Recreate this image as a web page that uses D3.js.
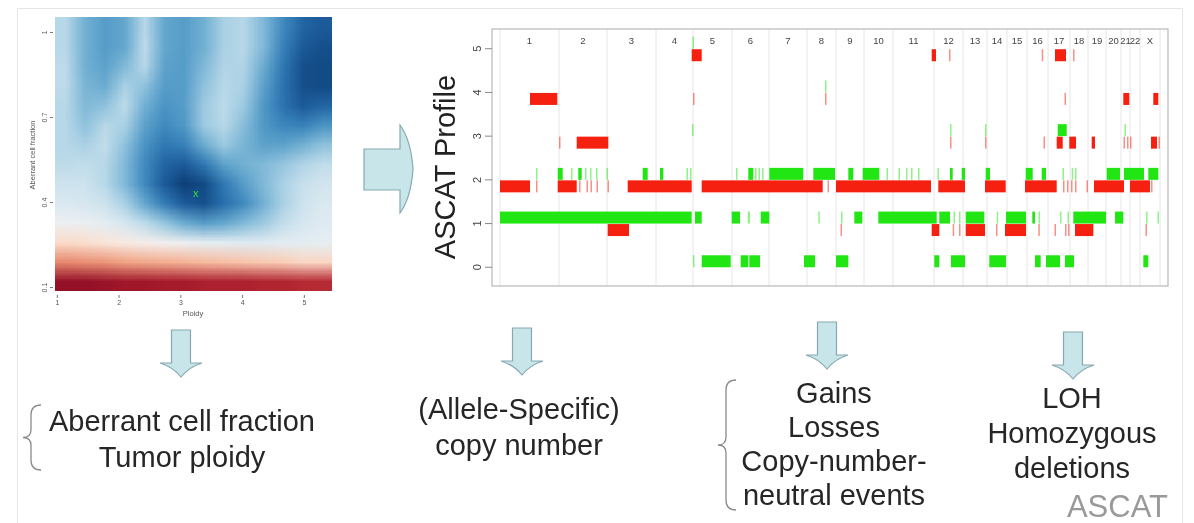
<!DOCTYPE html>
<html>
<head>
<meta charset="utf-8">
<script src="https://cdn.jsdelivr.net/npm/d3@7"></script>
<style>
  body { margin: 0; background: #fff; }
  #fig { position: relative; width: 1194px; height: 523px; }
  #fig svg { position: absolute; left: 0; top: 0; }
  text { font-family: "Liberation Sans", Arial, sans-serif; }
</style>
</head>
<body>
<div id="fig"></div>
<script>
// ---- goodness-of-fit landscape (ploidy x aberrant cell fraction) ----
var ploidyCells = [1.13, 1.45, 1.77, 2.09, 2.41, 2.73, 3.05, 3.37, 3.69, 4.01, 4.33, 4.65, 4.97, 5.28];
var purityCells = [1.018, 0.949, 0.879, 0.809, 0.740, 0.670, 0.601, 0.531, 0.462, 0.392, 0.322, 0.253, 0.183, 0.114];
// 0 = red (poor fit) .. 0.5 = white .. 1 = dark blue (good fit), rows top -> bottom
var fitGrid = [
  [0.64, 0.74, 0.78, 0.76, 0.64, 0.76, 0.78, 0.74, 0.66, 0.64, 0.72, 0.82, 0.90, 0.92],
  [0.64, 0.74, 0.78, 0.76, 0.63, 0.76, 0.78, 0.74, 0.66, 0.64, 0.72, 0.84, 0.92, 0.94],
  [0.63, 0.74, 0.77, 0.72, 0.64, 0.77, 0.78, 0.72, 0.65, 0.65, 0.75, 0.86, 0.94, 0.95],
  [0.63, 0.73, 0.75, 0.66, 0.70, 0.78, 0.78, 0.70, 0.64, 0.66, 0.77, 0.87, 0.94, 0.95],
  [0.64, 0.72, 0.70, 0.63, 0.74, 0.80, 0.78, 0.68, 0.63, 0.68, 0.79, 0.87, 0.92, 0.90],
  [0.64, 0.70, 0.64, 0.66, 0.77, 0.82, 0.79, 0.68, 0.64, 0.71, 0.79, 0.83, 0.84, 0.80],
  [0.64, 0.66, 0.62, 0.70, 0.80, 0.86, 0.84, 0.75, 0.68, 0.73, 0.77, 0.77, 0.74, 0.70],
  [0.63, 0.62, 0.64, 0.72, 0.82, 0.90, 0.92, 0.86, 0.77, 0.74, 0.72, 0.69, 0.65, 0.62],
  [0.60, 0.60, 0.64, 0.72, 0.82, 0.92, 0.97, 0.95, 0.86, 0.78, 0.72, 0.66, 0.61, 0.59],
  [0.57, 0.58, 0.60, 0.66, 0.76, 0.85, 0.92, 0.94, 0.88, 0.82, 0.74, 0.66, 0.60, 0.57],
  [0.52, 0.53, 0.55, 0.58, 0.63, 0.69, 0.75, 0.78, 0.76, 0.72, 0.68, 0.62, 0.58, 0.56],
  [0.41, 0.42, 0.44, 0.46, 0.48, 0.50, 0.52, 0.54, 0.55, 0.56, 0.56, 0.55, 0.55, 0.54],
  [0.26, 0.27, 0.28, 0.30, 0.31, 0.32, 0.33, 0.34, 0.35, 0.36, 0.37, 0.38, 0.40, 0.40],
  [0.06, 0.06, 0.07, 0.08, 0.08, 0.09, 0.09, 0.10, 0.10, 0.10, 0.11, 0.11, 0.12, 0.12]
];
var bestFit = {ploidy: 3.25, purity: 0.43};
var ploidyTicks = [1, 2, 3, 4, 5];
var purityTicks = [0.1, 0.4, 0.7, 1];

// ---- ASCAT profile ----
var chromNames = ["1","2","3","4","5","6","7","8","9","10","11","12","13","14","15","16","17","18","19","20","21","22","X"];
var chromSize = [59, 48, 49, 37, 39, 37, 38, 29, 28, 29, 41, 29, 24, 20, 20, 21, 22, 18, 18, 15, 9, 10, 20];
var cnTicks = [0, 1, 2, 3, 4, 5];
// [start, end, copy number] along the genome
var redSegs = [
  [0,30,2],[36,37.5,2],[57.7,76.7,2],[79,80.5,2],[86.5,88,2],[90.5,92,2],[96.5,98,2],[107.5,109,2],
  [127.7,191.7,2],[201.7,322.7,2],[327.5,329,2],[336,431,2],[438.3,465,2],[485,505.7,2],[525,556.7,2],
  [563,564.5,2],[567,568.5,2],[571,572.5,2],[575,576.5,2],[586.5,588,2],[594,624,2],[630,650,2],[651,652.5,2],
  [30,57.3,4],[193,194.5,4],[325,326.5,4],[564.5,566,4],[623.3,629.3,4],[653.3,658.3,4],
  [59,60.5,3],[76.7,108.3,3],[450,451.5,3],[485,486.5,3],[543.5,545,3],[556.7,562.7,3],[569.3,576,3],
  [591.7,595,3],[623.5,625,3],[627,628.5,3],[630,631.5,3],[651,657,3],[658.5,660,3],
  [191.7,201.7,5],[431.7,436,5],[449,450.5,5],[541.7,543.2,5],[555,566,5],[573,574.5,5],
  [107.7,129,1],[340.5,342,1],[431.7,439.3,1],[452.7,454.2,1],[459,460.5,1],[465.7,485,1],[496,497.5,1],
  [505,526,1],[538.3,539.8,1],[554.5,556,1],[565,566.5,1],[568,569.5,1],[575,593.3,1],[645.5,647,1]
];
var greenSegs = [
  [0,191.7,1],[195,201.7,1],[231.7,240,1],[247.7,250,1],[260.7,269.3,1],[318.3,319.8,1],[341,342.5,1],
  [354.3,362.3,1],[378.3,436.7,1],[439.3,450,1],[453.5,455,1],[459,460.5,1],[465.7,484.3,1],[496.7,498.2,1],
  [506,526,1],[532.3,535,1],[538.5,540,1],[560,561.5,1],[567.5,569,1],[573.3,606,1],[615,623.3,1],
  [646,647.5,1],[657.5,659,1],
  [36,37.5,2],[57.7,62.7,2],[71,72.5,2],[78.3,81.7,2],[85,86.5,2],[90,91.5,2],[96,97.5,2],[106.5,108,2],
  [142.7,147.7,2],[160,163.3,2],[186.5,188,2],[190,191.5,2],[236,237.5,2],[248.3,253.3,2],[255,256.5,2],
  [258.5,260,2],[262,263.5,2],[269.3,303.3,2],[313.3,335,2],[348.3,353.3,2],[362.7,379.3,2],[386.5,388,2],
  [398.5,400,2],[406,407.5,2],[411,412.5,2],[418,419.5,2],[437.5,439,2],[450,452.7,2],[461.7,465,2],
  [485.7,490,2],[525.7,532.7,2],[541.7,546,2],[562.5,564,2],[571.7,573.2,2],[575,576.5,2],[606.7,620,2],
  [624,644,2],[648.3,658.3,2],
  [192,193.5,3],[450,451.5,3],[485,486.5,3],[557.7,566.7,3],[624.5,626,3],
  [325,326.5,4],
  [192.5,194,5],
  [193,194.5,0],[201.7,230.7,0],[240.7,248.3,0],[249.3,260,0],[304,315,0],[336,348.3,0],[434.3,439.3,0],
  [451,465,0],[489.3,506,0],[535,540.7,0],[546,560,0],[565,574,0],[643.3,648.3,0]
];

// ---- annotation text ----
var captions = [
  {x: 182, lines: ["Aberrant cell fraction", "Tumor ploidy"], y0: 431, dy: 36},
  {x: 519, lines: ["(Allele-Specific)", "copy number"], y0: 419, dy: 36},
  {x: 834, lines: ["Gains", "Losses", "Copy-number-", "neutral events"], y0: 403, dy: 34},
  {x: 1072, lines: ["LOH", "Homozygous", "deletions"], y0: 408, dy: 35}
];
var downArrows = [{x: 181, y: 330}, {x: 522, y: 328}, {x: 827, y: 322}, {x: 1073, y: 332}];
var braces = [{x: 23, y0: 405, y1: 470}, {x: 718, y0: 380, y1: 510}];

var W = 1194, H = 523;
var fig = d3.select("#fig");

// ===== heatmap (canvas under the svg, smoothed when scaled up) =====
var hx = d3.scaleLinear().domain([0.97, 5.44]).range([55, 331]);
var hy = d3.scaleLinear().domain([0.079, 1.053]).range([293, 17]);
var cw = hx(ploidyCells[1]) - hx(ploidyCells[0]);
var ch = hy(purityCells[1]) - hy(purityCells[0]);
var heatLeft = hx(ploidyCells[0]) - cw / 2;
var heatTop = hy(purityCells[0]) - ch / 2;
var canvas = fig.append("canvas")
    .attr("width", ploidyCells.length).attr("height", purityCells.length)
    .style("position", "absolute")
    .style("left", heatLeft + "px").style("top", heatTop + "px")
    .style("width", (cw * ploidyCells.length) + "px")
    .style("height", (ch * purityCells.length) + "px");
var ctx = canvas.node().getContext("2d");
fitGrid.forEach(function (row, i) {
    row.forEach(function (v, j) {
        ctx.fillStyle = d3.interpolateRdBu(v);
        ctx.fillRect(j, i, 1, 1);
    });
});

var svg = fig.append("svg").attr("width", W).attr("height", H);

// outer panel
svg.append("rect").attr("x", 17.5).attr("y", 8.5).attr("width", 1165).attr("height", 530)
    .attr("fill", "none").attr("stroke", "#e6e6e6");

svg.append("text").attr("x", hx(bestFit.ploidy)).attr("y", hy(bestFit.purity) + 3.5)
    .attr("text-anchor", "middle").attr("font-size", 11).attr("fill", "#33dd33").text("x");

var hxAxis = svg.append("g").attr("transform", "translate(0,295)")
    .call(d3.axisBottom(hx).tickValues(ploidyTicks).tickSize(3).tickPadding(2).tickFormat(d3.format("d")));
var hyAxis = svg.append("g").attr("transform", "translate(53,0)")
    .call(d3.axisLeft(hy).tickValues(purityTicks).tickSize(3).tickFormat(function (d) { return d; }));
[hxAxis, hyAxis].forEach(function (a) {
    a.select(".domain").remove();
    a.selectAll("line").attr("stroke", "#777");
    a.selectAll("text").attr("font-size", 7).attr("fill", "#555")
        .attr("font-family", "Liberation Sans, Arial, sans-serif");
});
hyAxis.selectAll("text").attr("transform", "rotate(-90)").attr("x", 0).attr("y", -6)
    .attr("dy", 0).attr("text-anchor", "middle");
svg.append("text").attr("x", (hx.range()[0] + hx.range()[1]) / 2).attr("y", 316)
    .attr("text-anchor", "middle").attr("font-size", 7.5).attr("fill", "#555").text("Ploidy");
svg.append("text").attr("transform", "translate(35,155) rotate(-90)")
    .attr("text-anchor", "middle").attr("font-size", 7.5).attr("fill", "#555").text("Aberrant cell fraction");

// ===== big right arrow =====
svg.append("path")
    .attr("d", "M364,149 H400 V125 Q411,140 413,169 Q411,198 400,213 V190 H364 Z")
    .attr("fill", "#c8e5ea").attr("stroke", "#86a9b0").attr("stroke-width", 1.2);

// ===== ASCAT profile =====
var genomeLen = d3.sum(chromSize);
var chromStart = chromSize.map(function (d, i) { return d3.sum(chromSize.slice(0, i)); });
var px = d3.scaleLinear().domain([-8, genomeLen + 8]).range([492, 1168]);
var py = d3.scaleLinear().domain([-0.44, 5.44]).range([286, 29]);

svg.append("g").selectAll("line").data(chromStart.concat([genomeLen])).enter().append("line")
    .attr("x1", function (d) { return px(d); }).attr("x2", function (d) { return px(d); })
    .attr("y1", 29).attr("y2", 286).attr("stroke", "#e6e6e6");

svg.append("g").selectAll("text").data(chromNames).enter().append("text")
    .attr("x", function (d, i) { return px(chromStart[i] + chromSize[i] / 2); })
    .attr("y", 44).attr("text-anchor", "middle").attr("font-size", 9.5).attr("fill", "#444")
    .text(function (d) { return d; });

function drawSegs(data, colour, offset) {
    svg.append("g").selectAll("rect").data(data).enter().append("rect")
        .attr("x", function (d) { return px(d[0]); })
        .attr("width", function (d) { return Math.max(1.5, px(d[1]) - px(d[0])); })
        .attr("y", function (d) { return py(d[2]) + offset - 6; })
        .attr("height", 12)
        .attr("fill", colour)
        .attr("opacity", function (d) { return d[1] - d[0] < 2.5 ? 0.5 : 1; });
}
drawSegs(redSegs, "#f5200f", 7);
drawSegs(greenSegs, "#22e614", -5.5);

svg.append("rect").attr("x", 492).attr("y", 29).attr("width", 676).attr("height", 257)
    .attr("fill", "none").attr("stroke", "#b8b8b8").attr("stroke-width", 1.2);

var pyAxis = svg.append("g").attr("transform", "translate(492,0)")
    .call(d3.axisLeft(py).tickValues(cnTicks).tickSize(7).tickFormat(d3.format("d")));
pyAxis.select(".domain").remove();
pyAxis.selectAll("line").attr("stroke", "#888");
pyAxis.selectAll("text").attr("font-size", 11).attr("fill", "#444")
    .attr("font-family", "Liberation Sans, Arial, sans-serif")
    .attr("transform", "rotate(-90)").attr("x", 0).attr("y", -11).attr("dy", 0).attr("text-anchor", "middle");

svg.append("text").attr("transform", "translate(455,167) rotate(-90)")
    .attr("text-anchor", "middle").attr("font-size", 29).attr("fill", "#222").text("ASCAT Profile");

// ===== down arrows =====
svg.append("g").selectAll("path").data(downArrows).enter().append("path")
    .attr("d", function (d) {
        var bw = 9.5, hw = 21, bh = 33, th = 47;
        return "M" + (d.x - bw) + "," + d.y + " H" + (d.x + bw) + " V" + (d.y + bh) +
            " H" + (d.x + hw) + " Q" + (d.x + 8) + "," + (d.y + bh + 4) + " " + d.x + "," + (d.y + th) +
            " Q" + (d.x - 8) + "," + (d.y + bh + 4) + " " + (d.x - hw) + "," + (d.y + bh) +
            " H" + (d.x - bw) + " Z";
    })
    .attr("fill", "#c8e5ea").attr("stroke", "#86a9b0").attr("stroke-width", 1.2);

// ===== braces =====
svg.append("g").selectAll("path").data(braces).enter().append("path")
    .attr("d", function (d) {
        var m = (d.y0 + d.y1) / 2, a = d.x + 8, b = d.x + 18;
        return "M" + b + "," + d.y0 + " Q" + a + "," + d.y0 + " " + a + "," + (d.y0 + 10) +
            " V" + (m - 8) + " Q" + a + "," + m + " " + d.x + "," + m +
            " Q" + a + "," + m + " " + a + "," + (m + 8) +
            " V" + (d.y1 - 10) + " Q" + a + "," + d.y1 + " " + b + "," + d.y1;
    })
    .attr("fill", "none").attr("stroke", "#8a8a8a").attr("stroke-width", 1.3);

// ===== captions =====
captions.forEach(function (c) {
    svg.append("g").selectAll("text").data(c.lines).enter().append("text")
        .attr("x", c.x).attr("y", function (d, i) { return c.y0 + i * c.dy; })
        .attr("text-anchor", "middle").attr("font-size", 29).attr("fill", "#262626")
        .text(function (d) { return d; });
});
svg.append("text").attr("x", 1168).attr("y", 517).attr("text-anchor", "end")
    .attr("font-size", 31).attr("fill", "#999").text("ASCAT");
</script>
</body>
</html>
